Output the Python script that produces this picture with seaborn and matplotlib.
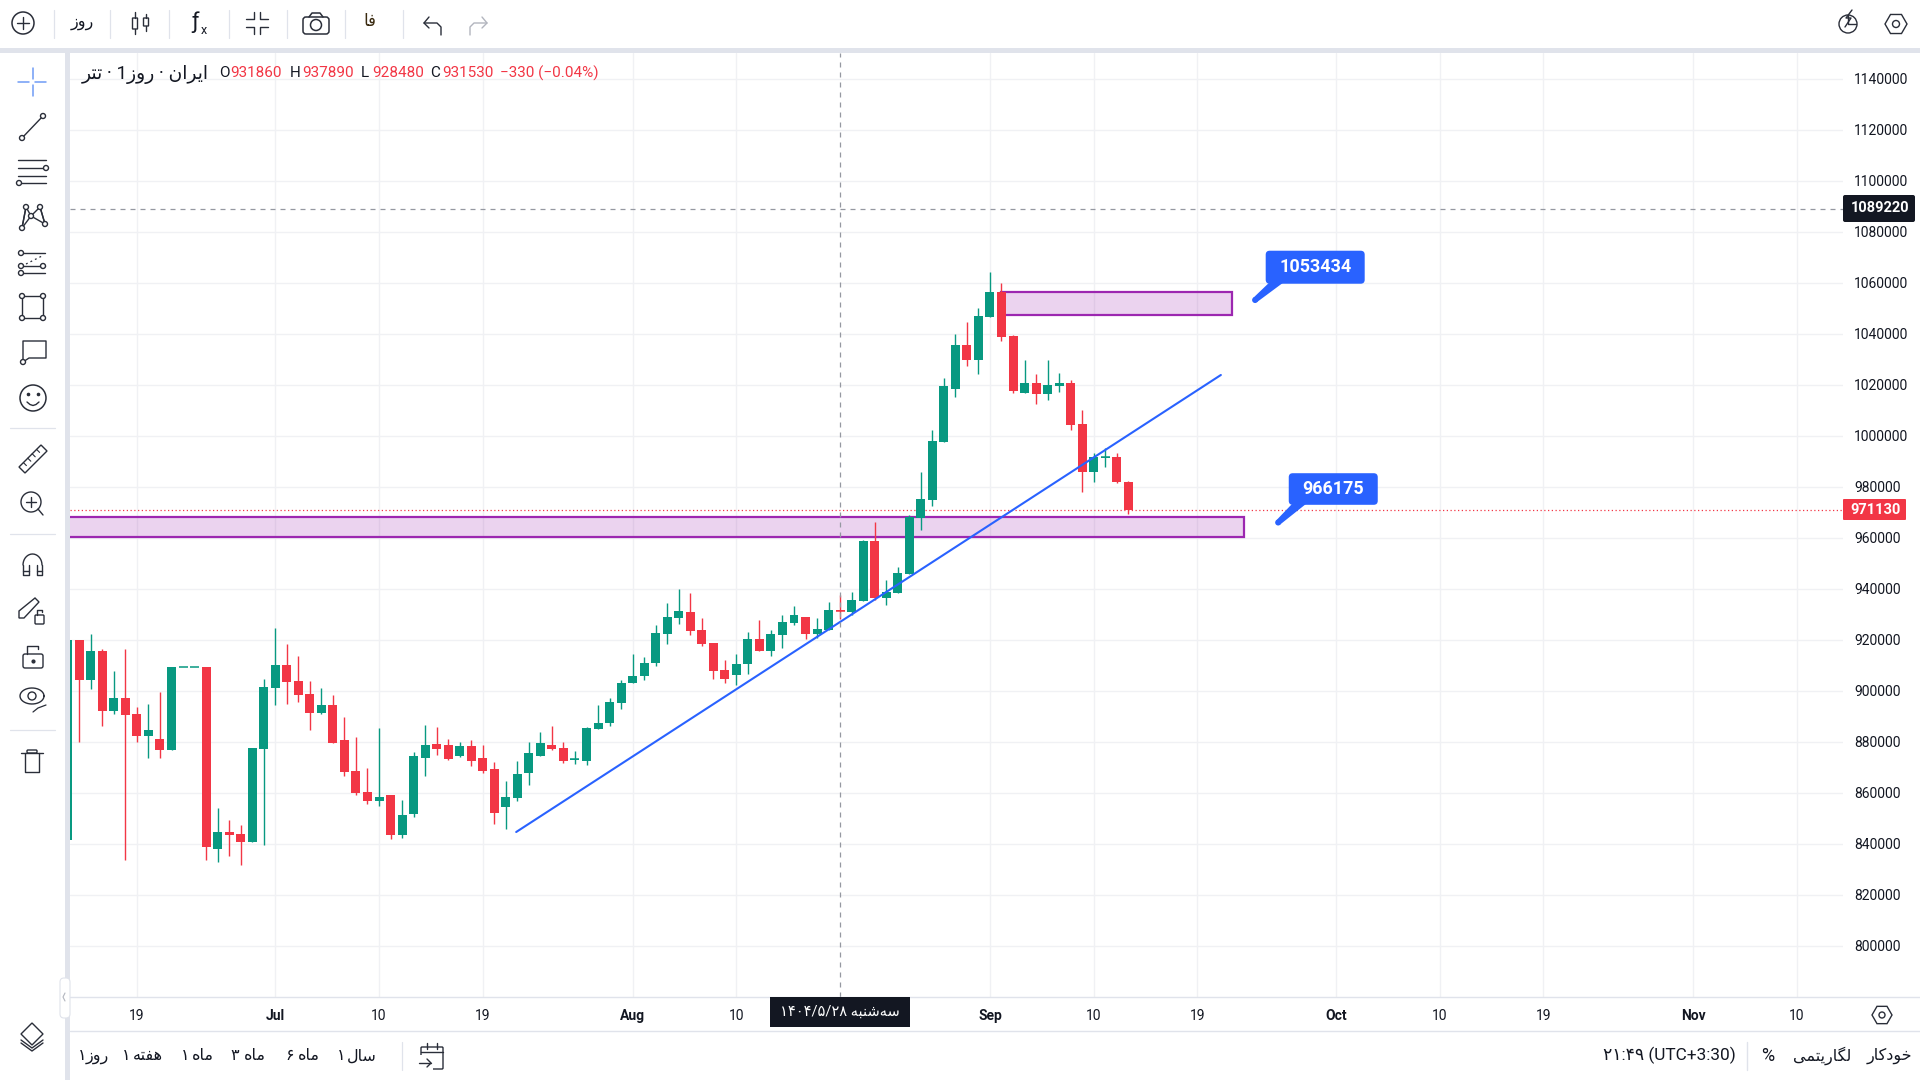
import numpy as np
import pandas as pd
import seaborn as sns
import matplotlib
matplotlib.use("Agg")
import matplotlib.pyplot as plt
from matplotlib.patches import Rectangle, FancyBboxPatch, Circle, Polygon
from matplotlib.transforms import ScaledTranslation

# Daily candles, Tether against the Iranian rial; day 0 is 14 June
days = list(range(-1, 92))
opens = [841700, 920100, 904444, 915816, 892287, 897385, 891111, 882483, 881307, 876994,
         909542, 909542, 909542, 838169, 844835, 844050, 840910, 877385, 901307, 910327,
         904052, 898954, 891503, 894640, 880915, 868757, 860522, 856993, 859344, 843660,
         851895, 873854, 879346, 878954, 874640, 878562, 873854, 869541, 854640, 858170,
         867973, 874640, 878954, 877777, 873200, 872679, 885228, 887581, 895424, 903268,
         906013, 911111, 922484, 928758, 931111, 924052, 918955, 908366, 906405, 910719,
         920522, 915817, 922091, 926666, 929150, 922484, 924052, 931860, 931111, 935425,
         958954, 936601, 938562, 946013, 968103, 975032, 997777, 1018562, 1035817, 1029934,
         1046797, 1056601, 1039346, 1016993, 1020915, 1016601, 1019738, 1020915, 1004836,
         986012, 991634, 991894, 982091]
highs = [920130, 920100, 922483, 916600, 907974, 916600, 893855, 895032, 899740, 909542,
         909542, 909542, 909542, 854245, 849540, 847581, 877776, 904836, 924836, 918561,
         913856, 904052, 901307, 898562, 889934, 882091, 869934, 885620, 859344, 857385,
         876209, 886797, 886013, 881307, 880130, 880915, 878954, 872287, 864836, 872680,
         880130, 884052, 886405, 880130, 876601, 886013, 894640, 897385, 904444, 914642,
         913464, 926013, 934640, 940131, 938562, 928758, 918955, 912287, 914642, 923262,
         927972, 924052, 929935, 933464, 929150, 928758, 935032, 937890, 938954, 959347,
         966405, 943660, 948758, 969150, 986012, 1002483, 1022876, 1040131, 1044836, 1050327,
         1064444, 1060131, 1039738, 1029934, 1024444, 1029934, 1024836, 1022091, 1010326,
         993463, 995424, 993463, 982483]
lows = [841700, 880130, 900914, 886405, 891111, 833855, 880130, 873854, 873854, 876994,
        909542, 909542, 833855, 833070, 835424, 831893, 840910, 839738, 894640, 895032,
        895817, 884835, 891111, 879737, 866797, 859344, 855816, 855032, 842091, 842483,
        850718, 866797, 875032, 873072, 874248, 870719, 867973, 847974, 846012, 856993,
        863267, 874640, 876993, 871895, 871503, 871111, 885228, 886405, 893072, 903268,
        904444, 909934, 918562, 926405, 922095, 917778, 904836, 903268, 902483, 906798,
        915817, 913856, 916993, 926013, 920522, 920915, 924052, 928480, 929935, 935425,
        935817, 933856, 938562, 946013, 963267, 972678, 997777, 1015424, 1027581, 1024444,
        1046797, 1037385, 1016993, 1016993, 1012679, 1014248, 1017385, 1002483, 978169,
        982091, 987973, 981699, 969542]
closes = [920130, 904440, 915816, 892287, 897385, 890719, 882483, 884835, 876994, 909542,
          909542, 909542, 838953, 844835, 843660, 840910, 877776, 901698, 910327, 903660,
          898562, 891503, 894640, 879737, 868365, 860130, 856993, 858562, 843660, 851503,
          874640, 878954, 877385, 873464, 878562, 872679, 868757, 852287, 858562, 867579,
          875816, 879738, 877385, 872679, 873464, 885620, 887581, 895815, 903268, 906013,
          911111, 922876, 929146, 931503, 923660, 918562, 907974, 904836, 910719, 920522,
          915817, 922484, 927189, 929935, 922484, 924444, 931897, 931530, 935817, 958954,
          936601, 938954, 946405, 968496, 975424, 998169, 1019738, 1035817, 1029934, 1047189,
          1056601, 1038954, 1017777, 1020915, 1016601, 1020130, 1020915, 1004444, 986012,
          991894, 991894, 982091, 971130]

price_ticks = list(range(800000, 1140001, 20000))
date_tick_days = [5, 17, 26, 35, 48, 57, 79, 88, 97, 109, 118, 127, 140, 149]
date_tick_labels = ["19", "Jul", "10", "19", "Aug", "10", "Sep", "10", "19", "Oct", "10", "19", "Nov", "10"]
month_labels = {"Jul", "Aug", "Sep", "Oct", "Nov"}

last_price = 971130
crosshair_price = 1089220
crosshair_day = 66
zone_lower = (960500, 968350)
zone_upper = (1047581, 1056601)
zone_lower_days = (-5, 101)
zone_upper_days = (80, 100)
trend_days = (37.9, 99.03)
trend_prices = (844790, 1024030)
callouts = [(102, 1053434), (104, 966175)]

GREEN = "#089981"
RED = "#f23645"
PURPLE = "#9c27b0"
BLUE = "#2962ff"
INK = "#131722"
RULE = "#e0e3eb"
GRID = "#f0f1f4"
ICON = "#2a2e39"
FONT = ["Roboto", "DejaVu Sans"]

sns.set_theme(style="white", rc={"axes.facecolor": "white", "figure.facecolor": "white"})
plt.rcParams["font.family"] = FONT

# Persian letters have to be joined by hand: (isolated, final, initial, medial)
FORMS = {
    "ا": "\uFE8D\uFE8E", "ر": "\uFEAD\uFEAE", "ز": "\uFEAF\uFEB0", "و": "\uFEED\uFEEE", "د": "\uFEA9\uFEAA",
    "ب": "\uFE8F\uFE90\uFE91\uFE92", "ت": "\uFE95\uFE96\uFE97\uFE98", "ن": "\uFEE5\uFEE6\uFEE7\uFEE8",
    "ی": "\uFBFC\uFBFD\uFBFE\uFBFF", "ه": "\uFEE9\uFEEA\uFEEB\uFEEC", "ش": "\uFEB5\uFEB6\uFEB7\uFEB8",
    "س": "\uFEB1\uFEB2\uFEB3\uFEB4", "م": "\uFEE1\uFEE2\uFEE3\uFEE4", "ل": "\uFEDD\uFEDE\uFEDF\uFEE0",
    "گ": "\uFB92\uFB93\uFB94\uFB95", "خ": "\uFEA5\uFEA6\uFEA7\uFEA8", "ک": "\uFB8E\uFB8F\uFB90\uFB91",
    "ف": "\uFED1\uFED2\uFED3\uFED4",
}


def fa(word):
    """Return a Persian word shaped and in display order."""
    out = []
    for i, ch in enumerate(word):
        if ch not in FORMS:
            if ch != "\u200c":
                out.append(ch)
            continue
        prev = word[i - 1] if i else ""
        nxt = word[i + 1] if i + 1 < len(word) else ""
        joins_prev = prev in FORMS and len(FORMS[prev]) == 4
        joins_next = nxt in FORMS and len(FORMS[ch]) == 4
        forms = FORMS[ch]
        if joins_prev and joins_next:
            out.append(forms[3])
        elif joins_next:
            out.append(forms[2])
        elif joins_prev:
            out.append(forms[1])
        else:
            out.append(forms[0])
    return "".join(reversed(out))


fig = plt.figure(figsize=(19.2, 10.8), dpi=100)
ax = fig.add_axes([70 / 1920, 1 - 997 / 1080, (1843 - 70) / 1920, (997 - 53) / 1080])

df = pd.DataFrame({"day": days, "open": opens, "high": highs, "low": lows, "close": closes})
df["bottom"] = df[["open", "close"]].min(axis=1)
df["body"] = (df["close"] - df["open"]).abs()
rising = df[df["close"] >= df["open"]]
falling = df[df["close"] < df["open"]]

# Wicks first so the bodies sit on top of them
ax.vlines(rising["day"], rising["low"], rising["high"], color=GREEN, lw=1.0, zorder=3)
ax.vlines(falling["day"], falling["low"], falling["high"], color=RED, lw=1.0, zorder=3)

for subset, colour in ((rising, GREEN), (falling, RED)):
    sns.barplot(x=subset["day"].to_numpy(), y=subset["body"].to_numpy(), bottom=subset["bottom"].to_numpy(),
                native_scale=True, color=colour, saturation=1, width=0.78, linewidth=0,
                errorbar=None, legend=False, ax=ax, zorder=4)

# Candles that barely move still show as a thin dash
flat = df[df["body"] < 800]
ax.hlines(flat["close"], flat["day"] - 0.39, flat["day"] + 0.39,
          colors=[GREEN if c >= o else RED for o, c in zip(flat["open"], flat["close"])], lw=1.1, zorder=4)

for (left, right), (low, high) in ((zone_lower_days, zone_lower), (zone_upper_days, zone_upper)):
    ax.add_patch(Rectangle((left, low), right - left, high - low, facecolor=PURPLE, alpha=0.2, lw=0, zorder=2))
    ax.add_patch(Rectangle((left, low), right - left, high - low, fill=False, edgecolor=PURPLE, lw=1.6, zorder=2.5))

sns.lineplot(x=list(trend_days), y=list(trend_prices), color=BLUE, lw=1.5, ax=ax, zorder=5, legend=False)

ax.axhline(last_price, color=RED, lw=0.9, ls=(0, (1, 2)), zorder=3)
ax.axhline(crosshair_price, color="#9598a1", lw=0.9, ls=(0, (4, 4)), zorder=6)
ax.axvline(crosshair_day, color="#9598a1", lw=0.9, ls=(0, (4, 4)), zorder=6)

ax.set_xlim(-0.807, 153.0)
ax.set_ylim(780080, 1150315)
ax.set_yticks(price_ticks)
ax.set_yticklabels([str(v) for v in price_ticks])
ax.yaxis.tick_right()
ax.set_xticks(date_tick_days)
ax.set_xticklabels(date_tick_labels)
ax.set_xlabel("")
ax.set_ylabel("")
ax.tick_params(axis="y", length=0, pad=8, labelsize=10, labelcolor=INK)
ax.tick_params(axis="x", length=0, pad=8.5, labelsize=10, labelcolor=INK)
lift = ScaledTranslation(0, 1.2 / 100, fig.dpi_scale_trans)
for tick in ax.yaxis.get_major_ticks():
    tick.label2.set_transform(tick.label2.get_transform() + lift)
for tick in ax.get_xticklabels():
    if tick.get_text() in month_labels:
        tick.set_fontweight("bold")
ax.grid(True, color=GRID, lw=1.0)
ax.set_axisbelow(True)
for side in ax.spines.values():
    side.set_visible(False)

# Pixel-addressed overlay for the toolbars and price flags
ui = fig.add_axes([0, 0, 1, 1], zorder=10)
ui.set_xlim(0, 1920)
ui.set_ylim(1080, 0)
ui.axis("off")
ui.patch.set_alpha(0)


def stroke(xs, ys, colour=ICON, lw=1.0, **kw):
    ui.plot(xs, ys, color=colour, lw=lw, solid_capstyle="round", **kw)


def ring(x, y, r, colour=ICON, lw=1.0, face="white"):
    ui.add_patch(Circle((x, y), r, facecolor=face, edgecolor=colour, lw=lw, zorder=3))


def outline(x, y, r, lw=1.0):
    ring(x, y, r, lw=lw, face="none")


def label(x, y, text, size=10, colour=INK, ha="center", weight="normal"):
    ui.text(x, y, text, fontsize=size, color=colour, ha=ha, va="center", fontweight=weight, family=FONT, zorder=6)


def box(x0, y0, x1, y1, colour=ICON, lw=1.0, radius=0, face="none", zorder=2):
    ui.add_patch(FancyBboxPatch((x0, y0), x1 - x0, y1 - y0, boxstyle=f"round,pad=0,rounding_size={radius}",
                                facecolor=face, edgecolor=colour, lw=lw, zorder=zorder))


# Frame of the panels
ui.add_patch(Rectangle((0, 48), 1920, 5, facecolor=RULE, lw=0))
ui.add_patch(Rectangle((65, 53), 5, 1027, facecolor=RULE, lw=0))
ui.add_patch(FancyBboxPatch((0, 53), 65, 60, boxstyle="round,pad=0,rounding_size=4", facecolor="white", lw=0))
stroke([70, 1920], [997, 997], RULE, 1.0)
stroke([70, 1920], [1031, 1031], RULE, 1.0)
box(60, 978, 70, 1018, RULE, 0.8, radius=4, face="white")
stroke([65, 63, 65], [993, 997, 1001], "#b2b5be", 0.8)

# Top toolbar
for x in (53.5, 110, 169, 228.5, 287, 345, 403):
    stroke([x, x], [10, 38], RULE, 0.9)
outline(23, 23, 11, lw=1.1)
stroke([17, 29], [23, 23], lw=1.0)
stroke([23, 23], [17, 29], lw=1.0)
label(82, 23, fa("روز"), size=11.5)
for x, y0, y1, b0, b1 in ((135, 12, 34, 18, 29), (146, 14, 31, 18, 26)):
    stroke([x, x], [y0, b0])
    stroke([x, x], [b1, y1])
    box(x - 2.5, b0, x + 2.5, b1)
label(195, 22, "ƒ", size=16)
label(204, 30, "x", size=9)
for sx, sy in ((-1, -1), (1, -1), (-1, 1), (1, 1)):
    stroke([257 + sx * 3, 257 + sx * 3, 257 + sx * 11], [23 + sy * 11, 23 + sy * 4, 23 + sy * 4], lw=1.0)
box(303, 17, 329, 34, radius=3, lw=1.1)
stroke([309, 312, 320, 323], [17, 13, 13, 17], lw=1.1)
outline(316, 25, 5.5, lw=1.1)
label(370, 22, fa("فا"), size=12, colour="#3a2a10")
stroke([424, 437, 441, 441], [23, 23, 27, 35], lw=1.0)
stroke([429, 424, 429], [17, 23, 28], lw=1.0)
stroke([487, 474, 470, 470], [23, 23, 27, 35], "#b2b5be", 1.0)
stroke([482, 487, 482], [17, 23, 28], "#b2b5be", 1.0)
outline(1848, 24, 9)
stroke([1848, 1848, 1856], [15, 24, 24], lw=1.0)
stroke([1852, 1846, 1851, 1845], [10, 18, 18, 27], lw=1.0)
hexagon = [(1896 + 11 * np.cos(a), 24 + 11 * np.sin(a)) for a in np.radians(range(0, 360, 60))]
ui.add_patch(Polygon(hexagon, closed=True, fill=False, edgecolor=ICON, lw=1.0))
outline(1896, 24, 3.5)

# Left drawing toolbar
side = 32
stroke([18, 29], [82, 82], "#6f9bf5", 1.1)
stroke([35, 46], [82, 82], "#6f9bf5", 1.1)
stroke([33, 33], [68, 79], "#6f9bf5", 1.1)
stroke([33, 33], [85, 96], "#6f9bf5", 1.1)
stroke([22, 43], [138, 116])
ring(22, 138, 2.5); ring(43, 116, 2.5)
for y, x0, x1 in ((160, 18, 46), (168, 18, 46), (176, 18, 46), (183, 18, 46)):
    stroke([x0, x1], [y, y])
ring(46, 168, 2.5); ring(19, 183, 2.5)
pts = [(22, 228), (26, 207), (31, 216), (40, 207), (45, 224)]
stroke([p[0] for p in pts], [p[1] for p in pts])
stroke([26, 22], [207, 228]); stroke([40, 45], [207, 224]); stroke([22, 31], [228, 216]); stroke([31, 45], [216, 224])
for p in pts:
    ring(p[0], p[1], 2.5)
stroke([21, 45], [253, 253]); stroke([21, 45], [266, 266]); stroke([21, 45], [273, 273])
stroke([26, 42], [264, 256], lw=0.9, ls=(0, (1.5, 2.5)))
ring(21, 253, 2.5); ring(43, 266, 2.5); ring(21, 266, 2.5); ring(21, 273, 2.5)
ui.add_patch(Rectangle((22, 296), 21, 22, fill=False, edgecolor=ICON, lw=1.0, zorder=2))
for px, py in ((22, 296), (43, 296), (22, 318), (43, 318)):
    ring(px, py, 2.5)
stroke([23, 23, 46, 46, 29, 23], [362, 341, 341, 358, 358, 362])
ring(23, 362, 2.5)
outline(side + 1, 398, 13, lw=1.1)
ui.plot([28, 38], [394, 394], ls="none", marker="o", ms=1.6, color=ICON)
ui.plot([27, 30, 33, 36, 39], [402, 404.5, 405.5, 404.5, 402], color=ICON, lw=1.0)
stroke([10, 55], [428, 428], RULE, 0.9)
ui.add_patch(Polygon([(19, 467), (41, 445), (47, 451), (25, 473)], closed=True, fill=False, edgecolor=ICON, lw=1.0))
for t in (0.2, 0.4, 0.6, 0.8):
    x, y = 19 + 22 * t, 467 - 22 * t
    stroke([x, x + 3], [y, y + 3], lw=0.8)
outline(side - 1, 502, 10)
stroke([26, 36], [502, 502]); stroke([31, 31], [497, 507])
stroke([38, 43], [509, 515])
stroke([10, 55], [534, 534], RULE, 0.9)
ui.plot(32.5 + 9.5 * np.cos(np.radians(range(180, 361, 10))), 565 + 11 * np.sin(np.radians(range(180, 361, 10))),
        color=ICON, lw=1.0)
stroke([23, 23, 28.5, 28.5], [565, 575, 575, 565]); stroke([36.5, 36.5, 42, 42], [565, 575, 575, 565])
stroke([23, 28.5], [571, 571]); stroke([36.5, 42], [571, 571])
ui.add_patch(Polygon([(19, 611), (35, 598), (39, 602), (24, 618), (19, 618)], closed=True, fill=False, edgecolor=ICON, lw=1.0))
box(35, 615, 44, 624, lw=1.0, radius=1)
stroke([37, 37, 42, 42], [615, 610, 610, 612])
box(23, 654, 43, 668, radius=2, lw=1.0)
stroke([27, 27, 38, 38], [654, 646, 646, 649])
ui.plot([33], [661], ls="none", marker="o", ms=2, color=ICON)
ui.plot(32 + 12 * np.cos(np.linspace(0, 2 * np.pi, 40)), 696 + 8 * np.sin(np.linspace(0, 2 * np.pi, 40)), color=ICON, lw=1.0)
outline(32, 696, 4)
stroke([33, 38, 46], [712, 708, 705], lw=0.9)
stroke([10, 55], [730, 730], RULE, 0.9)
stroke([21, 43], [753, 753]); box(27, 750, 37, 753, radius=1)
stroke([25, 25, 39, 39], [753, 772, 772, 753])
ui.add_patch(Polygon([(32, 1023), (43, 1034), (32, 1045), (21, 1034)], closed=True, fill=False, edgecolor=ICON, lw=1.0))
stroke([21, 32, 43], [1040, 1048, 1040]); stroke([21, 32, 43], [1043, 1051, 1043])

# Symbol line with the hovered candle's prices
label(82, 74, fa("تتر") + " · 1" + fa("روز") + " · " + fa("ایران"), size=13.5, ha="left")
for x, key, x2, val in ((219, "O", 230, "931860"), (290, "H", 302, "937890"), (361, "L", 372, "928480"), (430, "C", 442, "931530")):
    label(x, 73, key, size=11, ha="left")
    label(x2, 73, val, size=11, colour=RED, ha="left")
label(500, 73, "−330 (−0.04%)", size=11, colour=RED, ha="left")

# Flags on the axes
ui.add_patch(FancyBboxPatch((1843, 195), 72, 27, boxstyle="round,pad=0,rounding_size=2", facecolor=INK, lw=0, zorder=4))
label(1880.5, 208.5, str(crosshair_price), size=10.5, colour="white", weight="bold")
ui.add_patch(FancyBboxPatch((1843, 499), 63, 21, boxstyle="round,pad=0,rounding_size=1", facecolor=RED, lw=0, zorder=4))
label(1876, 509.5, str(last_price), size=10.5, colour="white", weight="bold")
ui.add_patch(Rectangle((770, 997), 140, 30, facecolor=INK, lw=0, zorder=4))
label(840, 1012, "۱۴۰۴/۵/۲۸ " + fa("سه‌شنبه"), size=10.5, colour="white")

# Price callouts anchored to the chart
fig.canvas.draw()
sizes = [(10.6, -49.3, 109.6, -16.3, 14, 28), (10.6, -49.3, 99.6, -17.7, 14, 28)]
for (day, price), (dx0, dy0, dx1, dy1, tw0, tw1) in zip(callouts, sizes):
    px, py = ax.transData.transform((day, price))
    py = 1080 - py
    ui.add_patch(Polygon([(px - 2, py - 2), (px + tw0, py + dy1 - 1), (px + tw1, py + dy1 - 1), (px + 2, py + 2)],
                         closed=True, facecolor=BLUE, lw=0, zorder=5))
    ui.add_patch(Circle((px, py), 3, facecolor=BLUE, lw=0, zorder=5))
    ui.add_patch(FancyBboxPatch((px + dx0, py + dy0), dx1 - dx0, dy1 - dy0, boxstyle="round,pad=0,rounding_size=4",
                                facecolor=BLUE, lw=0, zorder=5))
    ui.text(px + (dx0 + dx1) / 2, py + (dy0 + dy1) / 2, str(price), fontsize=13, color="white", fontweight="bold",
            ha="center", va="center", zorder=6, family=FONT)

# Bottom bar
for x, digit, word, wx in ((82, "۱", "روز", 97), (126, "۱", "هفته", 148), (185, "۱", "ماه", 203),
                           (235, "۳", "ماه", 255), (290, "۶", "ماه", 309), (341, "۱", "سال", 362)):
    label(x, 1056, digit, size=11.5)
    label(wx, 1056, fa(word), size=11.5)
stroke([402, 402], [1042, 1070], RULE, 0.9)
box(421, 1047, 443, 1069, radius=1, lw=1.0)
ui.add_patch(Rectangle((419, 1055), 14, 16, facecolor="white", lw=0, zorder=3))
stroke([421, 443], [1052, 1052])
stroke([427, 427], [1043, 1049]); stroke([437, 437], [1043, 1049])
stroke([419, 431], [1063, 1063], zorder=4); stroke([427, 431, 427], [1059, 1063, 1067], zorder=4)
label(1669, 1055, "۲۱:۴۹ (UTC+3:30)", size=12.4)
stroke([1747, 1747], [1042, 1070], RULE, 1.0)
label(1768, 1056, "%", size=13)
label(1822, 1056, fa("لگاریتمی"), size=11.5)
label(1889, 1056, fa("خودکار"), size=11.5)
hexagon = [(1882 + 10 * np.cos(a), 1015 + 10 * np.sin(a)) for a in np.radians(range(0, 360, 60))]
ui.add_patch(Polygon(hexagon, closed=True, fill=False, edgecolor=ICON, lw=1.0))
outline(1882, 1015, 3)

fig.savefig("out.png", dpi=100)
